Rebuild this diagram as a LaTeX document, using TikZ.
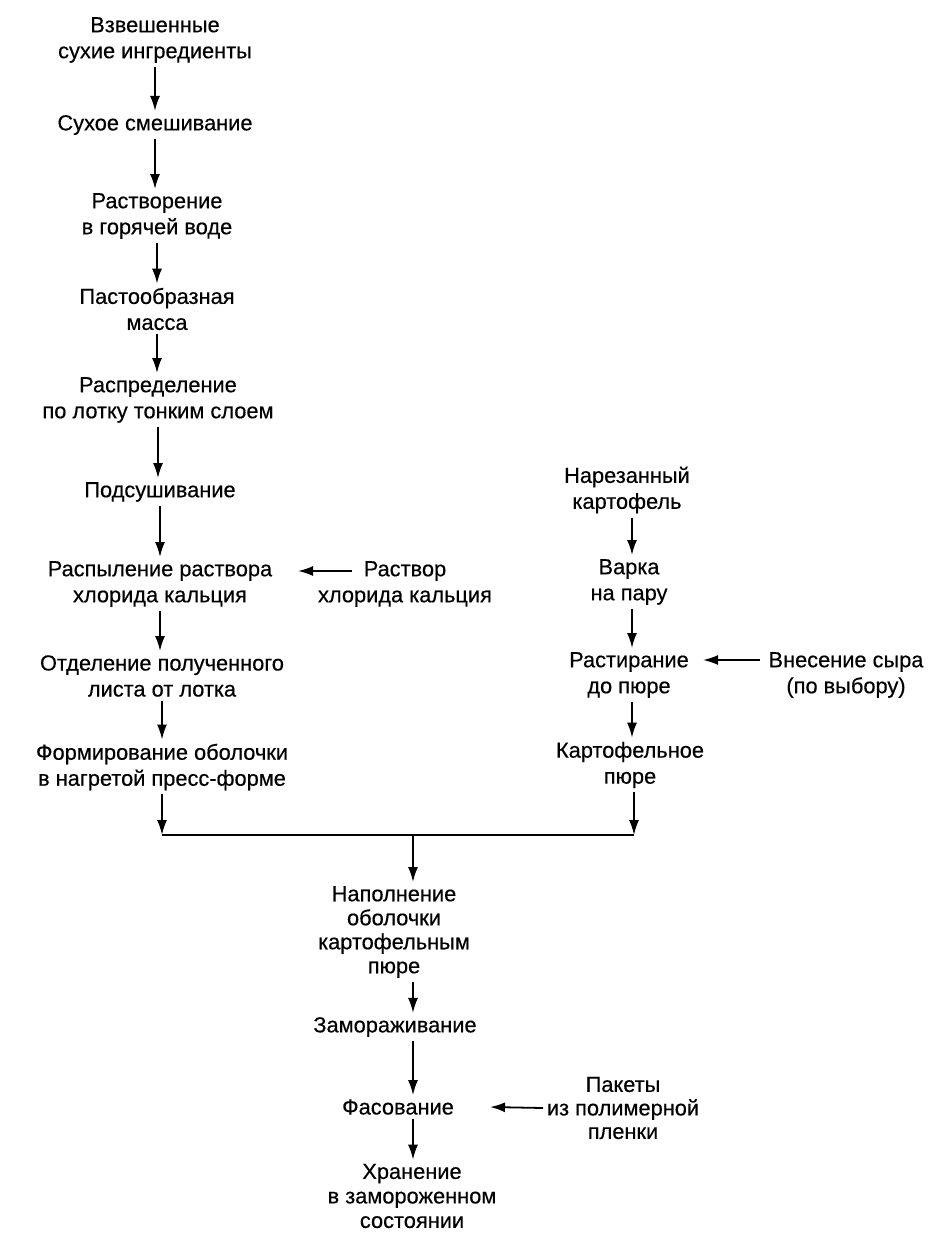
\documentclass[tikz,border=0pt]{standalone}
\usepackage{fontspec}
\setmainfont{Liberation Sans}
\usetikzlibrary{arrows.meta,calc}
\begin{document}
\begin{tikzpicture}[x=1pt,y=-1pt,
  lbl/.style={align=center,inner xsep=0pt,inner ysep=4pt,font=\fontsize{21.8}{26}\selectfont\addfontfeature{FakeBold=0.4}},
  arr/.style={-{Latex[length=15pt,width=10pt]},line width=1.8pt},
  ln/.style={line width=1.8pt}]
\useasboundingbox (0,0) rectangle (945,1250);
% left column
\node[lbl] (n1) at (155,40) {Взвешенные\\сухие ингредиенты};
\node[lbl] (n2) at (155,125) {Сухое смешивание};
\node[lbl] (n3) at (157,216) {Растворение\\в горячей воде};
\node[lbl] (n4) at (157,309) {Пастообразная\\масса};
\node[lbl] (n5) at (158,400) {Распределение\\по лотку тонким слоем};
\node[lbl] (n6) at (160,492) {Подсушивание};
\node[lbl] (n7) at (160,584) {Распыление раствора\\хлорида кальция};
\node[lbl] (n8) at (162,676) {Отделение полученного\\листа от лотка};
\node[lbl] (n9) at (162,767) {Формирование оболочки\\в нагретой пресс-форме};
\node[lbl] (s1) at (405,584) {Раствор\\хлорида кальция};
% right column
\node[lbl] (r1) at (627,490) {Нарезанный\\картофель};
\node[lbl] (r2) at (629,582) {Варка\\на пару};
\node[lbl] (r3) at (629,675) {Растирание\\до пюре};
\node[lbl] (r4) at (630,765) {Картофельное\\пюре};
\node[lbl] (s2) at (846,675) {Внесение сыра\\(по выбору)};
% centre column
\node[lbl,font=\fontsize{21.8}{24}\selectfont\addfontfeature{FakeBold=0.4}] (c1) at (394,932) {Наполнение\\оболочки\\картофельным\\пюре};
\node[lbl] (c2) at (395,1027) {Замораживание};
\node[lbl] (c3) at (398,1107) {Фасование};
\node[lbl,font=\fontsize{21.8}{24.5}\selectfont\addfontfeature{FakeBold=0.4}] (c4) at (412,1196) {Хранение\\в замороженном\\состоянии};
\node[lbl,font=\fontsize{21.8}{23.5}\selectfont\addfontfeature{FakeBold=0.4}] (s3) at (623,1108) {Пакеты\\из полимерной\\пленки};
% junction coordinates
\coordinate (jl) at (162,835);
\coordinate (jr) at (634,835);
\coordinate (jm) at (413,835);
\coordinate (xr) at (632,835);
% left arrows
\draw[arr] (n1.south) -- (n1.south |- n2.north);
\draw[arr] (n2.south) -- (n2.south |- n3.north);
\draw[arr] (n3.south) -- (n3.south |- n4.north);
\draw[arr] (n4.south) -- (n4.south |- n5.north);
\draw[arr] (n5.south) -- (n5.south |- n6.north);
\draw[arr] (n6.south) -- (n6.south |- n7.north);
\draw[arr] (n7.south) -- (n7.south |- n8.north);
\draw[arr] (n8.south) -- (n8.south |- n9.north);
\draw[arr] (n9.south) -- (jl);
% side input 1
\coordinate (s1a) at ($(s1.center)+(-53,-13)$);
\draw[arr] (s1a) -- ($(n7.center)+(138,-13)$);
% right arrows
\draw[arr] (r1.south -| xr) -- (r2.north -| xr);
\draw[arr] (r2.south -| xr) -- (r3.north -| xr);
\draw[arr] (r3.south -| xr) -- (r4.north -| xr);
\draw[arr] (r4.south -| jr) -- (jr);
\coordinate (s2a) at ($(s2.center)+(-86,-15)$);
\draw[arr] (s2a) -- ($(r3.center)+(74,-15)$);
% junction
\draw[ln] (jl) -- (jr);
\draw[arr] (jm) -- (c1.north -| jm);
\draw[arr] (c1.south -| jm) -- (c2.north -| jm);
\draw[arr] (c2.south -| jm) -- (c3.north -| jm);
\draw[arr] (c3.south -| jm) -- (c4.north -| jm);
\coordinate (s3a) at ($(s3.center)+(-80,0)$);
\draw[arr] (s3a) -- ($(c3.center)+(92,0)$);
\end{tikzpicture}
\end{document}
